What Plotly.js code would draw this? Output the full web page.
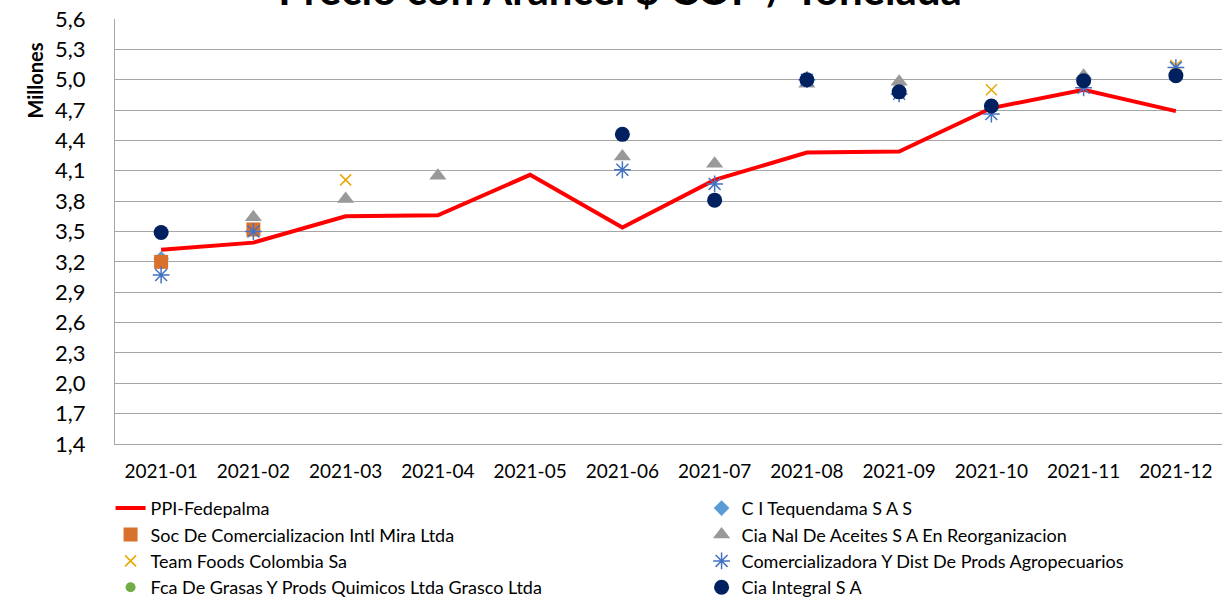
<!DOCTYPE html>
<html>
<head>
<meta charset="utf-8">
<script src="https://cdn.plot.ly/plotly-3.0.1.min.js"></script>
<style>html,body{margin:0;padding:0;background:#fff;}#chart{width:1229px;height:600px;}</style>
</head>
<body>
<div id="chart"></div>
<script>
const months = ["2021-01","2021-02","2021-03","2021-04","2021-05","2021-06","2021-07","2021-08","2021-09","2021-10","2021-11","2021-12"];
const ppiFedepalma   = [3.32, 3.39, 3.65, 3.66, 4.06, 3.54, 4.01, 4.28, 4.29, 4.72, 4.90, 4.69];
const ciTequendama   = [3.23, null, null, null, null, null, null, null, null, null, 5.02, null];
const socMira        = [3.20, 3.52, null, null, null, null, null, null, null, null, null, null];
const ciaNalAceites  = [null, 3.64, 3.82, 4.05, null, 4.24, 4.17, 4.96, 4.98, null, 5.04, null];
const teamFoods      = [null, null, 4.01, null, null, null, null, null, null, 4.90, null, 5.14];
const comercializadora = [3.07, 3.50, null, null, null, 4.11, 3.97, 5.00, 4.86, 4.66, 4.92, 5.12];
const fcaGrasas      = [3.49, null, null, null, null, null, null, null, null, null, null, null];
const ciaIntegral    = [3.49, null, null, null, null, 4.46, 3.81, 5.00, 4.88, 4.74, 4.99, 5.04];
const yTicks = [1.4, 1.7, 2.0, 2.3, 2.6, 2.9, 3.2, 3.5, 3.8, 4.1, 4.4, 4.7, 5.0, 5.3, 5.6];

function pts(name, y, symbol, color, size, lineW) {
  return {type:'scatter', mode:'markers', name:name, x:months, y:y,
    marker:{symbol:symbol, color:color, size:size, line:{color:color, width:lineW||0}}};
}

const traces = [
  {type:'scatter', mode:'lines', name:'PPI-Fedepalma', x:months, y:ppiFedepalma,
   line:{color:'#FF0000', width:4}},
  pts('C I Tequendama S A S', ciTequendama, 'diamond', '#5B9BD5', 12),
  pts('Soc De Comercializacion Intl Mira Ltda', socMira, 'square', '#D8712C', 14),
  pts('Cia Nal De Aceites S A En Reorganizacion', ciaNalAceites, 'triangle-up', '#999999', 15),
  pts('Team Foods Colombia Sa', teamFoods, 'x-thin-open', '#E6A800', 11, 1.5),
  pts('Comercializadora Y Dist De Prods Agropecuarios', comercializadora, 'asterisk-open', '#4472C4', 14, 1.5),
  pts('Fca De Grasas Y Prods Quimicos Ltda Grasco Ltda', fcaGrasas, 'circle', '#70AD47', 10),
  pts('Cia Integral S A', ciaIntegral, 'circle', '#002060', 15)
];

const layout = {
  width:1229, height:600,
  margin:{l:115, r:7, t:19, b:156, autoexpand:false},
  paper_bgcolor:'#FFFFFF', plot_bgcolor:'#FFFFFF',
  font:{family:'Lato, "Open Sans", sans-serif', color:'#000000'},
  separators:',.',
  showlegend:true,
  title:{text:'<b>Precio con Arancel $ COP / Tonelada</b>', font:{size:42, color:'#000000'},
         x:0.5045, xanchor:'center', y:1, yanchor:'bottom', xref:'container', yref:'paper', pad:{b:14}},
  xaxis:{type:'category', range:[-0.5, 11.5], tickvals:months, ticktext:months, showgrid:false, showline:true,
         linecolor:'#A6A6A6', linewidth:1, ticks:'', tickfont:{size:19}, ticklabelstandoff:10, fixedrange:true},
  yaxis:{range:[1.4,5.6], tickvals:yTicks, tickformat:'.1f', showgrid:true, gridcolor:'#A6A6A6', gridwidth:1,
         showline:true, linecolor:'#A6A6A6', linewidth:1, zeroline:false, ticks:'',
         tickfont:{size:22}, ticklabelstandoff:24},
  legend:{orientation:'h', x:-0.004, xanchor:'left', y:-0.108, yanchor:'top', entrywidth:546,
          font:{size:18}, tracegroupgap:0, bgcolor:'rgba(0,0,0,0)'},
  annotations:[{text:'<b>Millones</b>', textangle:-90, xref:'paper', yref:'paper', x:-0.072, y:0.856,
                xanchor:'center', yanchor:'middle', showarrow:false, font:{size:20}}]
};

Plotly.newPlot('chart', traces, layout, {displayModeBar:false, staticPlot:true});
</script>
</body>
</html>
